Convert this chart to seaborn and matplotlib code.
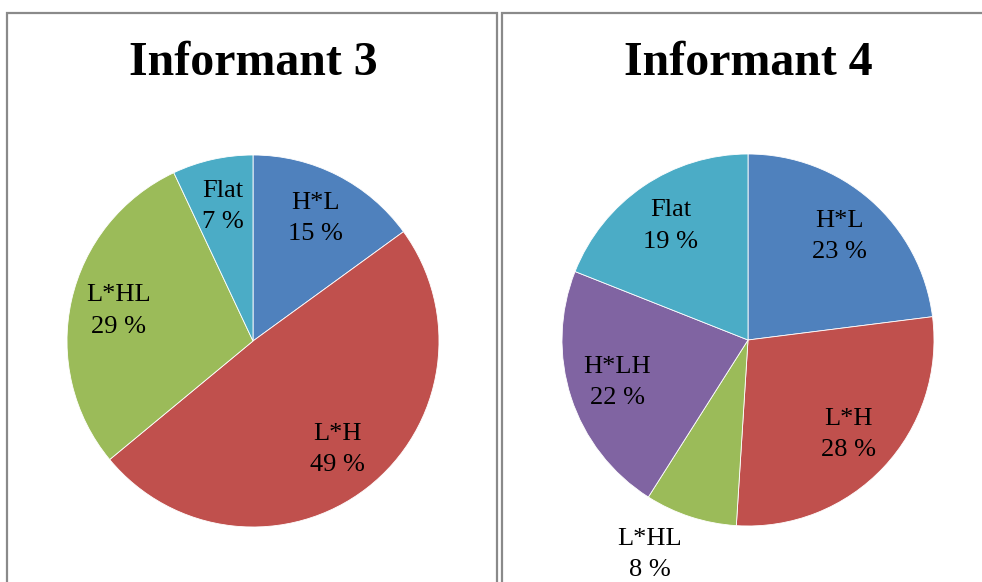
import numpy as np
import matplotlib
matplotlib.use("Agg")
import matplotlib.pyplot as plt
import seaborn as sns
from matplotlib.patches import Rectangle

# Intonation contour shares per informant
titles = ["Informant 3", "Informant 4"]
categories3 = ["H*L", "L*H", "L*HL", "Flat"]
values3 = [15, 49, 29, 7]
categories4 = ["H*L", "L*H", "L*HL", "H*LH", "Flat"]
values4 = [23, 28, 8, 22, 19]

sns.set_theme(style="white")
plt.rcParams["font.family"] = ["Liberation Serif", "DejaVu Serif"]

palette = dict(zip(["H*L", "L*H", "L*HL", "H*LH", "Flat"],
                   sns.color_palette(["#4F81BD", "#C0504D", "#9BBB59",
                                      "#8064A2", "#4BACC6"])))

W, H = 982, 582
fig = plt.figure(figsize=(W / 100, H / 100), dpi=100)
fig.patch.set_facecolor("white")

R = 186          # pie radius in pixels
HALF = 1.3       # axes half-extent in pie-radius units


def px_axes(cx, cy):
    half = HALF * R
    return fig.add_axes([(cx - half) / W, (H - cy - half) / H,
                         2 * half / W, 2 * half / H])


def draw_pie(ax, cats, vals, label_pos=None):
    label_pos = label_pos or {}
    wedges, _ = ax.pie(vals, colors=[palette[c] for c in cats],
                       startangle=90, counterclock=False, radius=1,
                       wedgeprops=dict(edgecolor="white", linewidth=0.6))
    for w, c, v in zip(wedges, cats, vals):
        dist, shift = label_pos.get(c, (0.74, 0.0))
        ang = np.deg2rad((w.theta1 + w.theta2) / 2 + shift)
        ax.text(dist * np.cos(ang), dist * np.sin(ang), f"{c}\n{v} %",
                ha="center", va="center", fontsize=19, linespacing=1.55,
                color="black", clip_on=False)
    ax.set_xlim(-HALF, HALF)
    ax.set_ylim(-HALF, HALF)
    ax.set_aspect("equal")
    ax.axis("off")


ax1 = px_axes(253, 341)
draw_pie(ax1, categories3, values3)
ax2 = px_axes(748, 340)
draw_pie(ax2, categories4, values4, label_pos={"L*HL": (1.27, -6.6)})

# Panel frames
for x0, x1 in [(7, 497), (502, 990)]:
    fig.patches.append(Rectangle((x0 / W, -0.1), (x1 - x0) / W,
                                 1.1 - 13 / H, transform=fig.transFigure,
                                 fill=False, edgecolor="#8a8a8a",
                                 linewidth=1.6, zorder=0))

for cx, t in zip([253, 748], titles):
    fig.text(cx / W, 1 - 63 / H, t, ha="center", va="center",
             fontsize=34.5, fontweight="bold", color="black")

fig.savefig("out.png", dpi=100, facecolor="white")
